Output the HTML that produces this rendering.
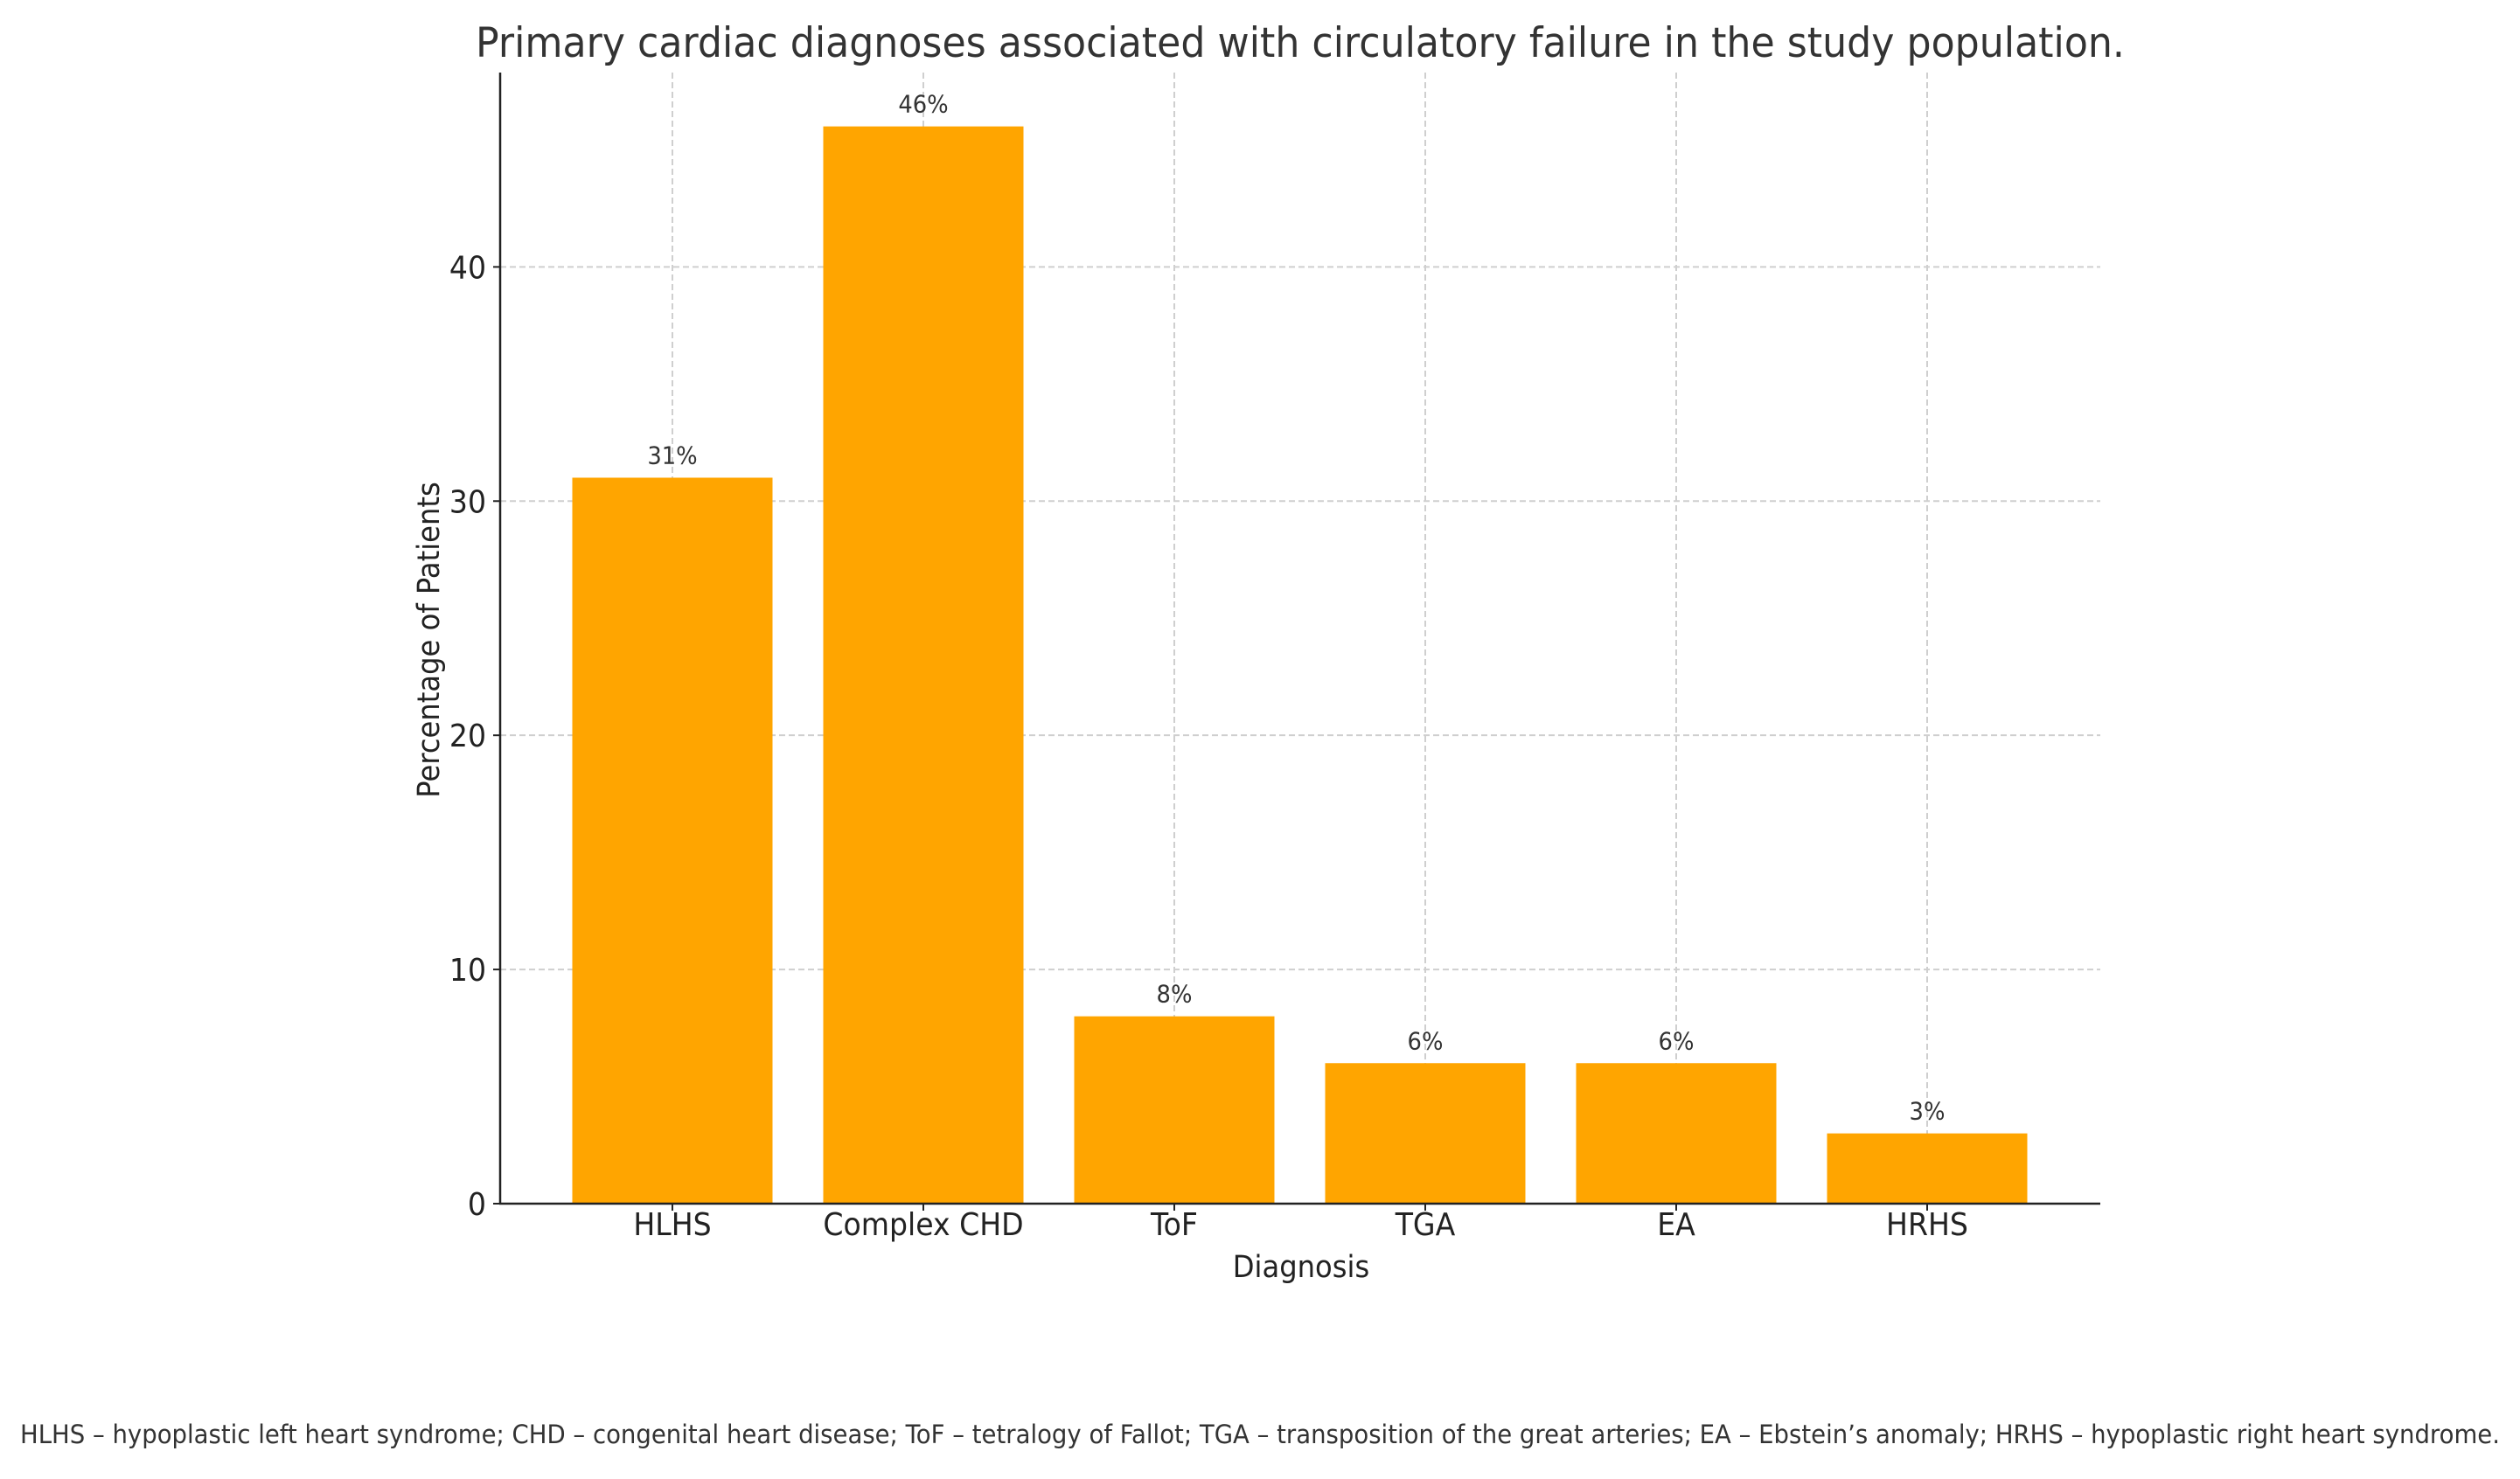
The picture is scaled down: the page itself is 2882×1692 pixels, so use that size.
<!DOCTYPE html>
<html><head><meta charset="utf-8"><style>
html,body{margin:0;padding:0;background:#fff;}
svg{display:block;font-family:"DejaVu Sans","Liberation Sans",sans-serif;}
</style></head><body>
<svg id="chart" width="2882" height="1692" viewBox="0 0 2882 1692" xmlns="http://www.w3.org/2000/svg">
<text class="cond" x="1487" y="65" text-anchor="middle" font-size="47" fill="#333" textLength="1886" lengthAdjust="spacingAndGlyphs">Primary cardiac diagnoses associated with circulatory failure in the study population.</text>
<g id="grid"></g>
<g id="bars"></g>
<g id="axes"></g>
<text class="cond" x="1488" y="1461" text-anchor="middle" font-size="35" fill="#222">Diagnosis</text>
<text class="cond" transform="translate(502,732) rotate(-90)" text-anchor="middle" font-size="35" fill="#222">Percentage of Patients</text>
<text x="1441" y="1651" text-anchor="middle" font-size="29" fill="#333" textLength="2836" lengthAdjust="spacingAndGlyphs">HLHS – hypoplastic left heart syndrome; CHD – congenital heart disease; ToF – tetralogy of Fallot; TGA – transposition of the great arteries; EA – Ebstein’s anomaly; HRHS – hypoplastic right heart syndrome.</text>
</svg>
<script>
const categories = ["HLHS","Complex CHD","ToF","TGA","EA","HRHS"];
const values = [31,46,8,6,6,3];
const valueLabels = ["31%","46%","8%","6%","6%","3%"];
const yTicks = [0,10,20,30,40];

const NS="http://www.w3.org/2000/svg";
const left=572, right=2402, y0=1377, yTop=83, yMax=48.3;
const step=287, firstC=769, barW=229;
function xs(i){return firstC+i*step;}
function ys(v){return y0-(v/yMax)*(y0-yTop);}
function mk(tag,attrs,parent){const e=document.createElementNS(NS,tag);for(const k in attrs)e.setAttribute(k,attrs[k]);parent.appendChild(e);return e;}
const grid=document.getElementById('grid'),bars=document.getElementById('bars'),axes=document.getElementById('axes');
yTicks.forEach(t=>{
  if(t>0){const g=mk('line',{x1:left,x2:right,y1:ys(t),y2:ys(t),stroke:'#cfcfcf','stroke-width':2,'stroke-dasharray':'7,4'},grid);
  
  }
  const tk=mk('line',{x1:left-8,x2:left,y1:ys(t),y2:ys(t),stroke:'#222','stroke-width':2},axes);
  
  
  const lb=mk('text',{x:left-16,y:ys(t)+13,'text-anchor':'end','font-size':36,fill:'#222','class':'cond'},axes);
  lb.textContent=t;
  
  
});
categories.forEach((c,i)=>{
  const v=values[i];
  const b=mk('rect',{x:xs(i)-barW/2,y:ys(v),width:barW,height:y0-ys(v),fill:'#ffa500'},bars);
  
  
  const vl=mk('text',{x:xs(i),y:ys(v)-16,'text-anchor':'middle','font-size':28,fill:'#333','class':'cond'},bars);
  vl.textContent=valueLabels[i];
  
  
  const g=mk('line',{x1:xs(i),x2:xs(i),y1:yTop,y2:y0,stroke:'#cfcfcf','stroke-width':2,'stroke-dasharray':'7,4'},grid);
  
  
  const tk=mk('line',{x1:xs(i),x2:xs(i),y1:y0,y2:y0+8,stroke:'#222','stroke-width':2},axes);
  
  
  const lb=mk('text',{x:xs(i),y:1413,'text-anchor':'middle','font-size':36,fill:'#222','class':'cond'},axes);
  lb.textContent=c;
  
  
});
const ya=mk('line',{x1:left,x2:left,y1:yTop,y2:y0+1,stroke:'#222','stroke-width':2.5},axes);


const xa=mk('line',{x1:left-1,x2:right,y1:y0,y2:y0,stroke:'#222','stroke-width':2.5},axes);


document.querySelectorAll('text.cond').forEach(t=>{
  if(t.getAttribute('textLength'))return;
  const w=t.getComputedTextLength();
  t.setAttribute('textLength',(w*0.92).toFixed(1));
  t.setAttribute('lengthAdjust','spacingAndGlyphs');
});
</script>
</body></html>
